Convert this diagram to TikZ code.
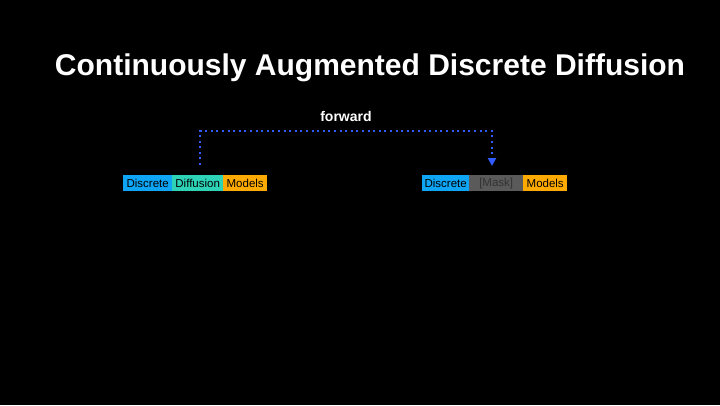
\documentclass[tikz,border=0pt]{standalone}
\usepackage{fontspec}
\setmainfont{Liberation Sans}
\usetikzlibrary{arrows.meta}
\definecolor{cblue}{HTML}{0EA5F5}
\definecolor{cteal}{HTML}{2ED3B7}
\definecolor{corange}{HTML}{FFAA00}
\definecolor{cgray}{HTML}{5A5A5A}
\definecolor{cline}{HTML}{2F5BFF}
\begin{document}
\begin{tikzpicture}[x=1pt,y=-1pt,
  tok/.style={minimum height=16pt,inner sep=0pt,font=\fontsize{11.5}{13}\selectfont,text=black,anchor=north west}]
\fill[black] (0,0) rectangle (720,405);
\node[text=white,font=\bfseries\fontsize{30}{34}\selectfont] (title) at (370,68) {Continuously Augmented Discrete Diffusion};
\node[text=white,font=\bfseries\fontsize{14}{16}\selectfont] (fw) at (346,116) {forward};
\node[tok,fill=cblue,minimum width=49pt] (a1) at (123,175) {Discrete};
\node[tok,fill=cteal,minimum width=51pt] (a2) at (172,175) {Diffusion};
\node[tok,fill=corange,minimum width=44pt] (a3) at (223,175) {Models};
\node[tok,fill=cblue,minimum width=47pt] (b1) at (422,175) {Discrete};
\node[tok,fill=cgray,minimum width=54pt,text=black!80] (b2) at (469,175) {[Mask]};
\node[tok,fill=corange,minimum width=44pt] (b3) at (523,175) {Models};
\coordinate (s) at (200,165);
\coordinate (e) at (492,166);
\draw[cline,line width=2pt,dash pattern=on 2pt off 3.6pt,-{Triangle[width=8pt,length=8pt]}] (s) -- (200,131) -- (492,131) -- (e);
\end{tikzpicture}
\end{document}
